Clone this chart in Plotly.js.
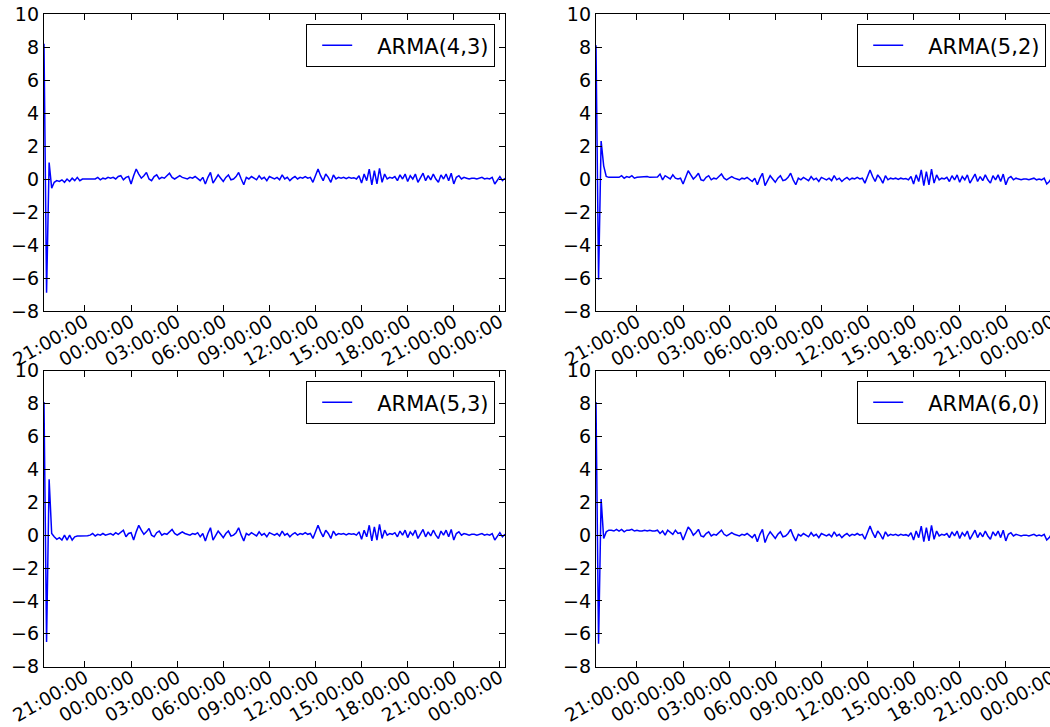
<!DOCTYPE html>
<html>
<head>
<meta charset="utf-8">
<script src="https://cdn.plot.ly/plotly-3.0.1.min.js"></script>
<style>
  html, body { margin: 0; padding: 0; overflow: hidden; background: #fff; }
  #chart { width: 1060px; height: 727px; }
</style>
</head>
<body>
<div id="chart"></div>
<script>
// ---- data ----
const startTime = { year: 2016, month: 1, day: 1, hour: 18, minute: 20 };
const stepMinutes = 10;
const seriesNames = ['ARMA(4,3)', 'ARMA(5,2)', 'ARMA(5,3)', 'ARMA(6,0)'];
const yTickVals = [-8, -6, -4, -2, 0, 2, 4, 6, 8, 10];

const arma43 = [8.2,-6.9,1.0,-0.55,-0.2,-0.1,-0.15,-0.05,-0.2,0.0,
  -0.15,0.05,-0.1,0.1,-0.1,0.0,0.0,0.0,0.0,0.02,
  0.0,0.1,-0.05,0.05,0.0,0.1,0.05,0.1,0.0,0.15,
  0.2,-0.05,0.1,0.15,-0.3,0.2,0.6,0.3,0.05,0.2,
  0.4,0.0,-0.1,0.15,0.25,0.0,0.1,0.05,0.2,0.35,
  0.1,0.0,0.1,0.2,0.1,0.05,0.0,0.1,0.05,0.15,
  0.0,-0.1,0.1,-0.3,0.1,0.4,-0.25,0.0,0.25,0.05,
  -0.15,0.1,0.25,-0.05,0.0,0.15,0.4,0.0,-0.35,0.1,
  0.0,0.15,0.05,-0.05,0.2,0.0,0.1,-0.1,0.15,0.05,
  0.0,0.1,-0.05,0.25,0.0,0.1,-0.1,0.05,0.15,0.0,
  0.1,0.05,0.15,0.05,0.1,-0.2,0.2,0.6,0.2,-0.1,
  0.3,0.1,-0.2,0.25,0.0,0.1,0.05,0.1,0.02,0.1,
  0.05,0.08,0.0,0.2,-0.25,0.3,-0.1,0.6,-0.35,0.5,
  -0.3,0.65,-0.2,0.3,0.0,0.1,0.05,0.15,-0.1,0.25,
  0.0,0.3,-0.15,0.2,0.0,0.3,-0.2,0.1,0.35,-0.1,
  0.2,-0.05,0.3,0.0,-0.2,0.25,0.0,0.3,-0.1,0.35,
  -0.3,0.1,0.2,0.0,0.1,0.05,0.0,0.05,0.05,0.0,
  0.05,0.1,0.0,0.05,0.0,0.1,-0.3,-0.1,0.15,-0.1,
  0.05];

const arma52 = [8.1,-6.1,2.3,0.8,0.15,0.1,0.1,0.1,0.12,0.1,
  0.2,0.05,0.15,0.1,0.2,0.05,0.1,0.12,0.1,0.12,
  0.15,0.1,0.12,0.1,0.12,0.3,-0.05,0.2,0.1,0.0,
  0.25,0.05,0.0,0.05,-0.3,0.15,0.5,0.25,0.0,0.15,
  0.35,-0.05,-0.1,0.1,0.2,-0.05,0.05,0.0,0.15,0.3,
  0.05,-0.05,0.05,0.15,0.05,0.0,-0.05,0.05,0.0,0.1,
  -0.05,-0.15,0.05,-0.35,0.05,0.35,-0.4,-0.05,0.2,0.0,
  -0.2,0.05,0.2,-0.1,-0.05,0.1,0.35,-0.05,-0.35,0.05,
  -0.05,0.1,0.0,-0.1,0.15,-0.05,0.05,-0.15,0.1,0.0,
  -0.05,0.05,-0.1,0.2,-0.05,0.05,-0.15,0.0,0.1,-0.05,
  0.05,0.0,0.1,0.0,0.05,-0.25,0.15,0.55,0.15,-0.15,
  0.25,0.05,-0.25,0.2,-0.05,0.05,0.0,0.05,-0.03,0.05,
  0.0,0.03,-0.05,0.15,-0.3,0.25,-0.15,0.55,-0.4,0.45,
  -0.35,0.6,-0.25,0.25,-0.05,0.05,0.0,0.1,-0.15,0.2,
  -0.05,0.25,-0.2,0.15,-0.05,0.25,-0.25,0.05,0.3,-0.15,
  0.15,-0.1,0.25,-0.05,-0.25,0.2,-0.05,0.25,-0.15,0.3,
  -0.35,0.05,0.15,-0.05,0.05,0.0,-0.05,0.0,0.0,-0.05,
  0.0,0.05,-0.05,0.0,-0.05,0.05,-0.3,-0.15,0.1,-0.15,
  -0.1];

const arma53 = [8.1,-6.5,3.4,0.1,-0.1,-0.25,-0.15,-0.3,0.0,-0.3,
  0.0,-0.3,-0.1,-0.05,-0.05,-0.05,-0.05,-0.03,0.0,0.1,
  -0.05,0.05,0.0,0.1,0.0,0.05,0.1,0.0,0.15,0.05,
  0.15,0.3,-0.1,0.1,0.15,-0.3,0.2,0.6,0.3,0.05,
  0.2,0.4,0.0,-0.1,0.15,0.25,0.0,0.1,0.05,0.2,
  0.35,0.1,0.0,0.1,0.2,0.1,0.05,0.0,0.1,0.05,
  0.15,-0.1,0.1,-0.35,0.1,0.45,-0.3,0.0,0.25,0.05,
  -0.15,0.1,0.25,-0.05,0.0,0.15,0.45,0.0,-0.35,0.1,
  0.0,0.15,0.05,-0.05,0.2,0.0,0.1,-0.1,0.15,0.05,
  0.0,0.1,-0.05,0.25,0.0,0.1,-0.1,0.05,0.15,0.0,
  0.1,0.05,0.15,0.05,0.1,-0.2,0.2,0.6,0.2,-0.1,
  0.3,0.1,-0.2,0.25,0.0,0.1,0.05,0.1,0.02,0.1,
  0.05,0.08,0.0,0.2,-0.25,0.3,-0.1,0.6,-0.35,0.5,
  -0.3,0.65,-0.2,0.3,0.0,0.1,0.05,0.15,-0.1,0.25,
  0.0,0.3,-0.15,0.2,0.0,0.3,-0.2,0.1,0.35,-0.1,
  0.2,-0.05,0.3,0.0,-0.2,0.25,0.0,0.3,-0.1,0.35,
  -0.3,0.1,0.2,0.0,0.1,0.05,0.0,0.05,0.05,0.0,
  0.05,0.1,0.0,0.05,0.0,0.1,-0.3,-0.1,0.15,-0.1,
  0.05];

const arma60 = [8.1,-6.6,2.2,-0.2,0.2,0.3,0.3,0.25,0.35,0.25,
  0.35,0.2,0.3,0.3,0.35,0.25,0.3,0.25,0.25,0.3,
  0.25,0.3,0.25,0.25,0.3,0.1,0.25,0.0,0.3,0.15,
  0.05,0.3,0.1,0.15,-0.3,0.1,0.5,0.3,0.0,0.15,
  0.35,-0.05,-0.1,0.1,0.2,-0.05,0.05,0.0,0.15,0.3,
  0.05,-0.05,0.05,0.15,0.05,0.0,-0.05,0.05,0.0,0.1,
  -0.05,-0.15,0.05,-0.4,0.05,0.35,-0.45,-0.05,0.2,0.0,
  -0.2,0.05,0.2,-0.1,-0.05,0.1,0.35,-0.05,-0.35,0.05,
  -0.05,0.1,0.0,-0.1,0.15,-0.05,0.05,-0.15,0.1,0.0,
  -0.05,0.05,-0.1,0.2,-0.05,0.05,-0.15,0.0,0.1,-0.05,
  0.05,0.0,0.1,0.0,0.05,-0.25,0.15,0.55,0.15,-0.15,
  0.25,0.05,-0.25,0.2,-0.05,0.05,0.0,0.05,-0.03,0.05,
  0.0,0.03,-0.05,0.15,-0.3,0.25,-0.15,0.55,-0.4,0.45,
  -0.35,0.6,-0.25,0.25,-0.05,0.05,0.0,0.1,-0.15,0.2,
  -0.05,0.25,-0.2,0.15,-0.05,0.25,-0.25,0.05,0.3,-0.15,
  0.15,-0.1,0.25,-0.05,-0.25,0.2,-0.05,0.25,-0.15,0.3,
  -0.35,0.05,0.15,-0.05,0.05,0.0,-0.05,0.0,0.0,-0.05,
  0.0,0.05,-0.05,0.0,-0.05,0.05,-0.3,-0.15,0.1,-0.15,
  -0.1];

const seriesValues = [arma43, arma52, arma53, arma60];

// ---- time index (regular 10-minute sampling) ----
function pad(n) { return (n < 10 ? '0' : '') + n; }
function makeTimes(n) {
  const out = [];
  const base = startTime.hour * 60 + startTime.minute;
  for (let i = 0; i < n; i++) {
    const tot = base + i * stepMinutes;
    const day = startTime.day + Math.floor(tot / 1440);
    const rem = tot % 1440;
    out.push(startTime.year + '-' + pad(startTime.month) + '-' + pad(day) + ' ' +
             pad(Math.floor(rem / 60)) + ':' + pad(rem % 60));
  }
  return out;
}
const times = makeTimes(arma43.length);

// ---- layout ----
const W = 1060, H = 727;
const yFont = { family: 'DejaVu Sans, sans-serif', size: 19, color: '#000' };
const xFont = { family: 'DejaVu Sans, sans-serif', size: 18.5, color: '#000' };
const xDomains = [[44 / W, 505 / W], [596 / W, 1057 / W]];
const yDomains = [[1 - 311 / H, 1 - 14 / H], [1 - 666.7 / H, 1 - 370.7 / H]];

const layout = {
  width: W, height: H,
  margin: { l: 0, r: 0, t: 0, b: 0 },
  paper_bgcolor: '#fff', plot_bgcolor: '#fff',
  font: yFont,
  showlegend: true
};

const traces = [];
for (let k = 0; k < 4; k++) {
  const col = k % 2, row = Math.floor(k / 2);
  const sfx = k === 0 ? '' : String(k + 1);
  const legName = 'legend' + sfx;
  traces.push({
    x: times, y: seriesValues[k], type: 'scatter', mode: 'lines',
    name: '\u00a0\u00a0\u00a0' + seriesNames[k],
    line: { color: '#0000ff', width: 1.5 },
    xaxis: 'x' + sfx, yaxis: 'y' + sfx,
    legend: legName
  });
  const common = {
    showline: true, linecolor: '#000', linewidth: 1.2, mirror: 'ticks',
    ticks: 'inside', ticklen: 6, tickwidth: 1, tickcolor: '#000',
    showgrid: false, zeroline: false, fixedrange: true
  };
  layout['xaxis' + sfx] = Object.assign({}, common, {
    type: 'date', domain: xDomains[col], anchor: 'y' + sfx,
    range: [times[0], times[times.length - 1]],
    tick0: '2016-01-01 21:00', dtick: 3 * 3600 * 1000,
    tickformat: '%H:%M:%S', tickangle: -30, ticklabelstandoff: -8,
    tickfont: xFont
  });
  layout['yaxis' + sfx] = Object.assign({}, common, {
    domain: yDomains[row], anchor: 'x' + sfx,
    range: [yTickVals[0], yTickVals[yTickVals.length - 1]],
    tickvals: yTickVals, tickfont: yFont
  });
  layout[legName] = {
    x: (col === 0 ? 495 : 1046) / W, xanchor: 'right',
    y: 1 - (row === 0 ? 24 : 381) / H, yanchor: 'top',
    bgcolor: '#fff', bordercolor: '#000', borderwidth: 1.2,
    font: { family: 'DejaVu Sans, sans-serif', size: 21, color: '#000' },
    itemwidth: 30, indentation: 10
  };
}

Plotly.newPlot('chart', traces, layout, { displayModeBar: false, staticPlot: true });
</script>
</body>
</html>
